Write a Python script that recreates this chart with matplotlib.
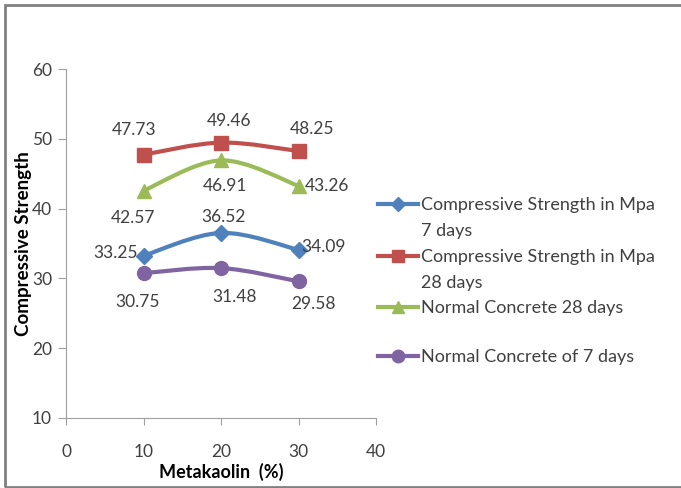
import matplotlib
import numpy as np

matplotlib.use("Agg")
import matplotlib.pyplot as plt
from matplotlib.lines import Line2D
from matplotlib.patches import PathPatch, Rectangle
from matplotlib.path import Path

plt.rcParams["font.family"] = ["Lato", "DejaVu Sans"]

metakaolin = [10, 20, 30]
cs_7 = [33.25, 36.52, 34.09]
cs_28 = [47.73, 49.46, 48.25]
normal_28 = [42.57, 46.91, 43.26]
normal_7 = [30.75, 31.48, 29.58]

series = [
    ("Compressive Strength in Mpa\n7 days", cs_7, "#4F81BD", "D", 8),
    ("Compressive Strength in Mpa\n28 days", cs_28, "#C0504D", "s", 10),
    ("Normal Concrete 28 days", normal_28, "#9BBB59", "^", 10),
    ("Normal Concrete of 7 days", normal_7, "#8064A2", "o", 10),
]
# label offsets (points) for each series
offsets = [
    [(-20, 2), (2, 11.5), (18, 2)],
    [(-7, 17.5), (6, 15.5), (10, 16)],
    [(-7.5, -20), (3, -18.5), (20.5, 0)],
    [(-4.5, -20.5), (10, -21), (11, -16.5)],
]
# legend rows: y (pixels from top) of the first text line of each entry
legend_rows = [204, 256, 307, 356]


def smooth_path(xs, ys):
    pts = np.column_stack([xs, ys]).astype(float)
    ext = np.vstack([pts[0], pts, pts[-1]])
    verts = [pts[0]]
    codes = [Path.MOVETO]
    for i in range(1, len(ext) - 2):
        p0, p1, p2, p3 = ext[i - 1], ext[i], ext[i + 1], ext[i + 2]
        verts += [p1 + (p2 - p0) / 6, p2 - (p3 - p1) / 6, p2]
        codes += [Path.CURVE4] * 3
    return Path(verts, codes)


W, H = 681, 488
fig = plt.figure(figsize=(W / 100, H / 100), dpi=100)
ax = fig.add_axes([66 / W, 1 - 418 / H, 310 / W, 349 / H])

for (label, vals, color, marker, ms), offs, row in zip(series, offsets, legend_rows):
    ax.add_patch(PathPatch(smooth_path(metakaolin, vals), fill=False,
                           edgecolor=color, lw=3, zorder=2))
    ax.plot(metakaolin, vals, ls="none", marker=marker, ms=ms, color=color, zorder=3)
    for x, y, off in zip(metakaolin, vals, offs):
        ax.annotate(f"{y:.2f}", (x, y), xytext=off, textcoords="offset points",
                    ha="center", va="center", fontsize=12.5, color="#404040")
    # legend entry
    yf = 1 - row / H
    fig.add_artist(Line2D([378 / W, 418 / W], [yf, yf], color=color, lw=3,
                          transform=fig.transFigure))
    fig.add_artist(Line2D([398 / W], [yf], color=color, marker=marker, ms=ms - 1,
                          transform=fig.transFigure))
    fig.text(421 / W, yf + 7 / H, label, ha="left", va="top", fontsize=13,
             color="#404040", linespacing=1.8)

ax.set_xlim(0, 40)
ax.set_ylim(10, 60)
ax.set_xticks([0, 10, 20, 30, 40])
ax.set_yticks([10, 20, 30, 40, 50, 60])
for side in ("top", "right"):
    ax.spines[side].set_visible(False)
for side in ("left", "bottom"):
    ax.spines[side].set_color("#A0A0A0")
ax.tick_params(axis="y", direction="out", length=6, color="#A0A0A0", labelsize=12.5,
               labelcolor="#404040", pad=4)
ax.tick_params(axis="x", direction="out", length=5, color="#A0A0A0", labelsize=12.5,
               labelcolor="#404040", pad=14)
ax.set_xlabel("Metakaolin  (%)", fontsize=13, fontweight="bold")
ax.set_ylabel("Compressive Strength", fontsize=13.5, fontweight="bold")
ax.xaxis.set_label_coords(0.5, -0.13)
ax.yaxis.set_label_coords(-0.11, 0.5)

fig.patches.append(Rectangle((5 / W, 1 / H), 1.0, 482 / H, transform=fig.transFigure,
                             fill=False, edgecolor="#808080", lw=2))
fig.savefig("out.png", dpi=100)
